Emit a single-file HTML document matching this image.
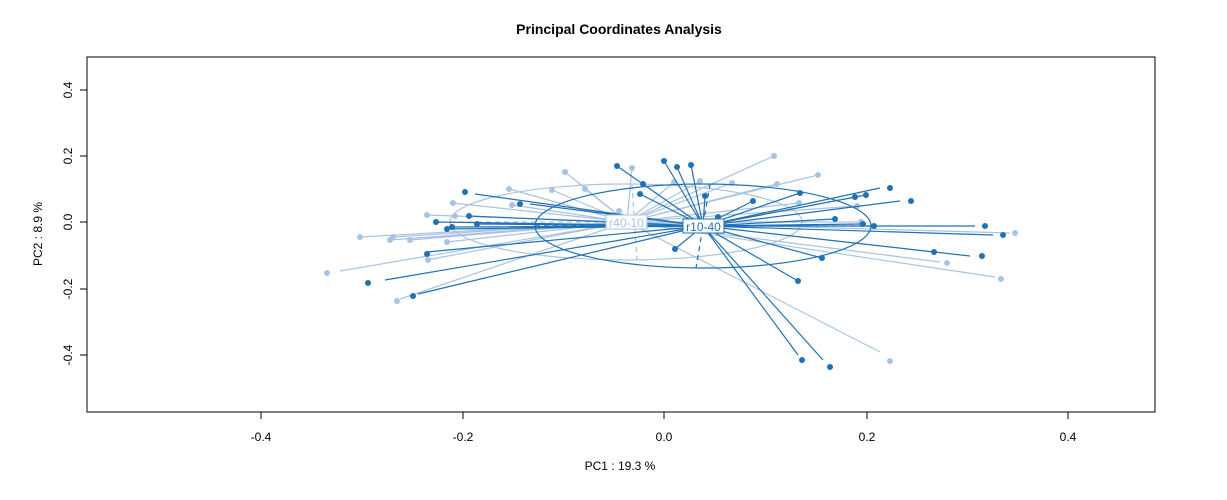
<!DOCTYPE html>
<html><head><meta charset="utf-8"><style>
html,body{margin:0;padding:0;background:#fff;}
svg{display:block;font-family:"Liberation Sans",Arial,sans-serif;}
</style></head><body>
<svg width="1227" height="500" viewBox="0 0 1227 500" xmlns="http://www.w3.org/2000/svg">
<text x="619" y="34" text-anchor="middle" font-size="14" font-weight="bold">Principal Coordinates Analysis</text>
<rect x="87" y="57" width="1068" height="355" fill="none" stroke="#000" stroke-width="1"/>
<g stroke="#000" stroke-width="1">
<line x1="261" y1="412" x2="1068" y2="412"/>
<line x1="261" y1="412" x2="261" y2="419"/><line x1="463" y1="412" x2="463" y2="419"/><line x1="664" y1="412" x2="664" y2="419"/><line x1="867" y1="412" x2="867" y2="419"/><line x1="1068" y1="412" x2="1068" y2="419"/>
<line x1="87" y1="90" x2="87" y2="355"/>
<line x1="80" y1="90" x2="87" y2="90"/><line x1="80" y1="156" x2="87" y2="156"/><line x1="80" y1="222" x2="87" y2="222"/><line x1="80" y1="289" x2="87" y2="289"/><line x1="80" y1="355" x2="87" y2="355"/>
</g>
<g font-size="12" text-anchor="middle">
<text x="261" y="441">-0.4</text><text x="463" y="441">-0.2</text><text x="664" y="441">0.0</text><text x="867" y="441">0.2</text><text x="1068" y="441">0.4</text>
<text x="620" y="470">PC1 :  19.3 %</text>
<text transform="translate(72,90) rotate(-90)">0.4</text>
<text transform="translate(72,156) rotate(-90)">0.2</text>
<text transform="translate(72,222) rotate(-90)">0.0</text>
<text transform="translate(72,289) rotate(-90)">-0.2</text>
<text transform="translate(72,355) rotate(-90)">-0.4</text>
<text transform="translate(42,234) rotate(-90)">PC2 :  8.9 %</text>
</g>
<!-- light group -->
<g stroke="#a9c4e2" stroke-width="1.2" fill="none">
<ellipse cx="626" cy="222" rx="176" ry="38"/>
<line x1="450" y1="222" x2="802" y2="222" stroke-dasharray="5,4"/>
<line x1="632" y1="184" x2="637" y2="260" stroke-dasharray="5,4"/>
<path id="lp" d="M627 222L565 172M627 222L632 168M627 222L774 156M627 222L818 175M627 222L732 183M627 222L700 181M627 222L585 189M627 222L509 189M627 222L453 203M627 222L427 215M627 222L455 216M627 222L360 237M627 222L393 237M627 222L390 240M627 222L410 240M627 222L447 242M627 222L340 271M627 222L400 299M627 222L427 260M627 222L1010 233M627 222L995 277M627 222L940 262M627 222L880 352M627 222L857 206M627 222L861 222M627 222L799 203M627 222L777 184M627 222L674 182M627 222L619 211M627 222L552 190M627 222L512 205"/>
</g>
<g fill="#a9c4e2">
<circle cx="565" cy="172" r="3"/><circle cx="632" cy="168" r="3"/><circle cx="774" cy="156" r="3"/><circle cx="818" cy="175" r="3"/><circle cx="732" cy="183" r="3"/><circle cx="700" cy="181" r="3"/><circle cx="585" cy="189" r="3"/><circle cx="509" cy="189" r="3"/><circle cx="453" cy="203" r="3"/><circle cx="427" cy="215" r="3"/><circle cx="455" cy="216" r="3"/><circle cx="360" cy="237" r="3"/><circle cx="393" cy="237" r="3"/><circle cx="390" cy="240" r="3"/><circle cx="410" cy="240" r="3"/><circle cx="447" cy="242" r="3"/><circle cx="327" cy="273" r="3"/><circle cx="397" cy="301" r="3"/><circle cx="428" cy="260" r="3"/><circle cx="1015" cy="233" r="3"/><circle cx="1001" cy="279" r="3"/><circle cx="947" cy="263" r="3"/><circle cx="890" cy="361" r="3"/><circle cx="857" cy="206" r="3"/><circle cx="861" cy="222" r="3"/><circle cx="799" cy="203" r="3"/><circle cx="777" cy="184" r="3"/><circle cx="674" cy="182" r="3"/><circle cx="619" cy="211" r="3"/><circle cx="552" cy="190" r="3"/><circle cx="512" cy="205" r="3"/>
</g>
<!-- dark group -->
<g stroke="#2171b5" stroke-width="1.2" fill="none">
<ellipse cx="703" cy="226" rx="168" ry="42"/>
<line x1="535" y1="226" x2="871" y2="226" stroke-dasharray="5,4"/>
<line x1="710" y1="184" x2="696" y2="268" stroke-dasharray="5,4"/>
<path d="M703 226L617 166M703 226L664 161M703 226L677 167M703 226L691 165M703 226L643 184M703 226L640 194M703 226L705 196M703 226L753 201M703 226L675 249M703 226L718 217M703 226L800 193M703 226L880 188M703 226L900 201M703 226L855 197M703 226L866 195M703 226L835 219M703 226L863 224M703 226L874 226M703 226L975 226M703 226L993 235M703 226L934 252M703 226L970 256M703 226L822 258M703 226L798 281M703 226L798 355M703 226L823 360M703 226L475 194M703 226L530 204M703 226L469 216M703 226L436 222M703 226L447 229M703 226L452 227M703 226L477 224M703 226L427 252M703 226L418 294M703 226L385 280"/>
</g>
<g fill="#2171b5">
<circle cx="617" cy="166" r="3"/><circle cx="664" cy="161" r="3"/><circle cx="677" cy="167" r="3"/><circle cx="691" cy="165" r="3"/><circle cx="643" cy="184" r="3"/><circle cx="640" cy="194" r="3"/><circle cx="705" cy="196" r="3"/><circle cx="753" cy="201" r="3"/><circle cx="675" cy="249" r="3"/><circle cx="718" cy="217" r="3"/><circle cx="800" cy="193" r="3"/><circle cx="890" cy="188" r="3"/><circle cx="911" cy="201" r="3"/><circle cx="855" cy="197" r="3"/><circle cx="866" cy="195" r="3"/><circle cx="835" cy="219" r="3"/><circle cx="863" cy="224" r="3"/><circle cx="874" cy="226" r="3"/><circle cx="985" cy="226" r="3"/><circle cx="1003" cy="235" r="3"/><circle cx="934" cy="252" r="3"/><circle cx="982" cy="256" r="3"/><circle cx="822" cy="258" r="3"/><circle cx="798" cy="281" r="3"/><circle cx="802" cy="360" r="3"/><circle cx="830" cy="367" r="3"/><circle cx="465" cy="192" r="3"/><circle cx="520" cy="204" r="3"/><circle cx="469" cy="216" r="3"/><circle cx="436" cy="222" r="3"/><circle cx="447" cy="229" r="3"/><circle cx="452" cy="227" r="3"/><circle cx="477" cy="224" r="3"/><circle cx="427" cy="254" r="3"/><circle cx="413" cy="296" r="3"/><circle cx="368" cy="283" r="3"/>
</g>
<!-- labels -->
<rect x="606" y="215" width="41" height="14" fill="#fff" stroke="#a9c4e2" stroke-width="1"/>
<text x="626.5" y="227" text-anchor="middle" font-size="12" fill="#a9c4e2">r40-10</text>
<rect x="683" y="219" width="41" height="14" fill="#fff" stroke="#2171b5" stroke-width="1"/>
<text x="703.5" y="231" text-anchor="middle" font-size="12" fill="#2171b5">r10-40</text>
</svg>
</body></html>
